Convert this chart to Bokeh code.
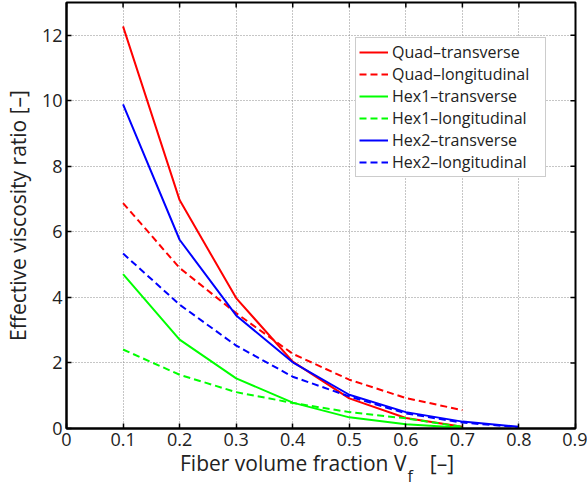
import math
from bokeh.plotting import figure
from bokeh.layouts import column
from bokeh.models import Range1d, FixedTicker, Legend, LegendItem, Div
from bokeh.embed import file_html
from bokeh.resources import INLINE

# ---- data ----
vf = [0.1, 0.2, 0.3, 0.4, 0.5, 0.6, 0.7, 0.8]
quad_trans = [12.27, 6.97, 3.98, 2.04, 0.92, 0.32, 0.05]
quad_long = [6.88, 4.90, 3.52, 2.28, 1.49, 0.93, 0.56]
hex1_trans = [4.71, 2.71, 1.53, 0.79, 0.34, 0.13, 0.02]
hex1_long = [2.41, 1.64, 1.11, 0.78, 0.50, 0.31, 0.05]
hex2_trans = [9.89, 5.76, 3.45, 2.02, 1.03, 0.50, 0.21, 0.05]
hex2_long = [5.34, 3.78, 2.53, 1.58, 0.98, 0.46, 0.18, 0.04]

series_names = ["Quad–transverse", "Quad–longitudinal", "Hex1–transverse",
                "Hex1–longitudinal", "Hex2–transverse", "Hex2–longitudinal"]
series_values = [quad_trans, quad_long, hex1_trans, hex1_long, hex2_trans, hex2_long]
series_colors = ["#ff0000", "#ff0000", "#00ff00", "#00ff00", "#0000ff", "#0000ff"]
series_dash = ["solid", "7 4", "solid", "7 4", "solid", "7 4"]

xticks = [0, 0.1, 0.2, 0.3, 0.4, 0.5, 0.6, 0.7, 0.8, 0.9]
xtick_labels = ["0", "0.1", "0.2", "0.3", "0.4", "0.5", "0.6", "0.7", "0.8", "0.9"]
yticks = [0, 2, 4, 6, 8, 10, 12]
x_min, x_max = 0, 0.9
y_min, y_max = 0, 13

x_label_main = "Fiber volume fraction V"
x_label_sub = "f"
x_label_unit = "[–]"
y_label = "Effective viscosity ratio [–]"

FONT = "Open Sans"
TXT = "#222222"

p = figure(width=587, height=458, output_backend="svg", toolbar_location=None,
           x_range=Range1d(x_min, x_max), y_range=Range1d(y_min, y_max),
           min_border_left=65, min_border_right=12, min_border_top=2,
           min_border_bottom=30)
p.background_fill_color = "white"
p.border_fill_color = "white"
p.outline_line_color = "black"
p.outline_line_width = 2

p.xaxis.ticker = FixedTicker(ticks=xticks)
p.xaxis.major_label_overrides = {t: l for t, l in zip(xticks, xtick_labels)}
p.yaxis.ticker = FixedTicker(ticks=yticks)

for ax in list(p.xaxis) + list(p.yaxis):
    ax.axis_line_color = "black"
    ax.axis_line_width = 2
    ax.major_tick_in = 5
    ax.major_tick_out = 0
    ax.major_tick_line_width = 1.5
    ax.minor_tick_line_color = None
    ax.major_label_text_font = FONT
    ax.major_label_text_font_size = "18px"
    ax.major_label_text_color = TXT
    ax.major_label_standoff = 4

p.yaxis.axis_label = y_label
p.yaxis.axis_label_text_font = FONT
p.yaxis.axis_label_text_font_size = "21px"
p.yaxis.axis_label_text_font_style = "normal"
p.yaxis.axis_label_text_color = TXT
p.yaxis.axis_label_standoff = 7

# inward ticks mirrored on the top and right edges (half of each dash is clipped by the frame)
p.scatter([x_max] * len(yticks), yticks, marker="dash", size=10,
          line_color="black", line_width=1.5)
p.scatter(xticks, [y_max] * len(xticks), marker="dash", size=10, angle=math.pi / 2,
          line_color="black", line_width=1.5)

p.xgrid.ticker = FixedTicker(ticks=xticks)
p.ygrid.ticker = FixedTicker(ticks=yticks)
for g in (p.xgrid, p.ygrid):
    g.grid_line_color = "#8c8c8c"
    g.grid_line_dash = "1 2"
    g.grid_line_width = 1

items = []
for name, vals, col, dash in zip(series_names, series_values, series_colors, series_dash):
    r = p.line(vf[:len(vals)], vals, line_color=col, line_width=2, line_dash=dash)
    items.append(LegendItem(label=name, renderers=[r]))

legend = Legend(items=items, location=(289, 251))
legend.label_text_font = FONT
legend.label_text_font_size = "16px"
legend.label_text_color = TXT
legend.glyph_width = 29
legend.glyph_height = 22
legend.label_height = 22
legend.label_width = 150
legend.spacing = 0
legend.padding = 3
legend.label_standoff = 4
legend.border_line_color = "#9a9a9a"
legend.border_line_width = 1
legend.background_fill_color = "white"
legend.background_fill_alpha = 1
p.add_layout(legend)

# x-axis title with a subscript, as real HTML text under the figure
xlabel_html = (
    f'<div style="font-family:\'{FONT}\';font-size:21px;color:{TXT};line-height:11px;'
    f'white-space:nowrap;padding-left:180px;">'
    f'{x_label_main}<span style="font-size:16px;position:relative;top:11px;margin-left:1px;">'
    f'{x_label_sub}</span><span style="margin-left:17px;">{x_label_unit}</span></div>'
)
xlabel = Div(text=xlabel_html, width=587, height=30, margin=(0, 0, 0, 0))

layout = column(p, xlabel, spacing=0)
open("out.html", "w").write(file_html(layout, INLINE))
